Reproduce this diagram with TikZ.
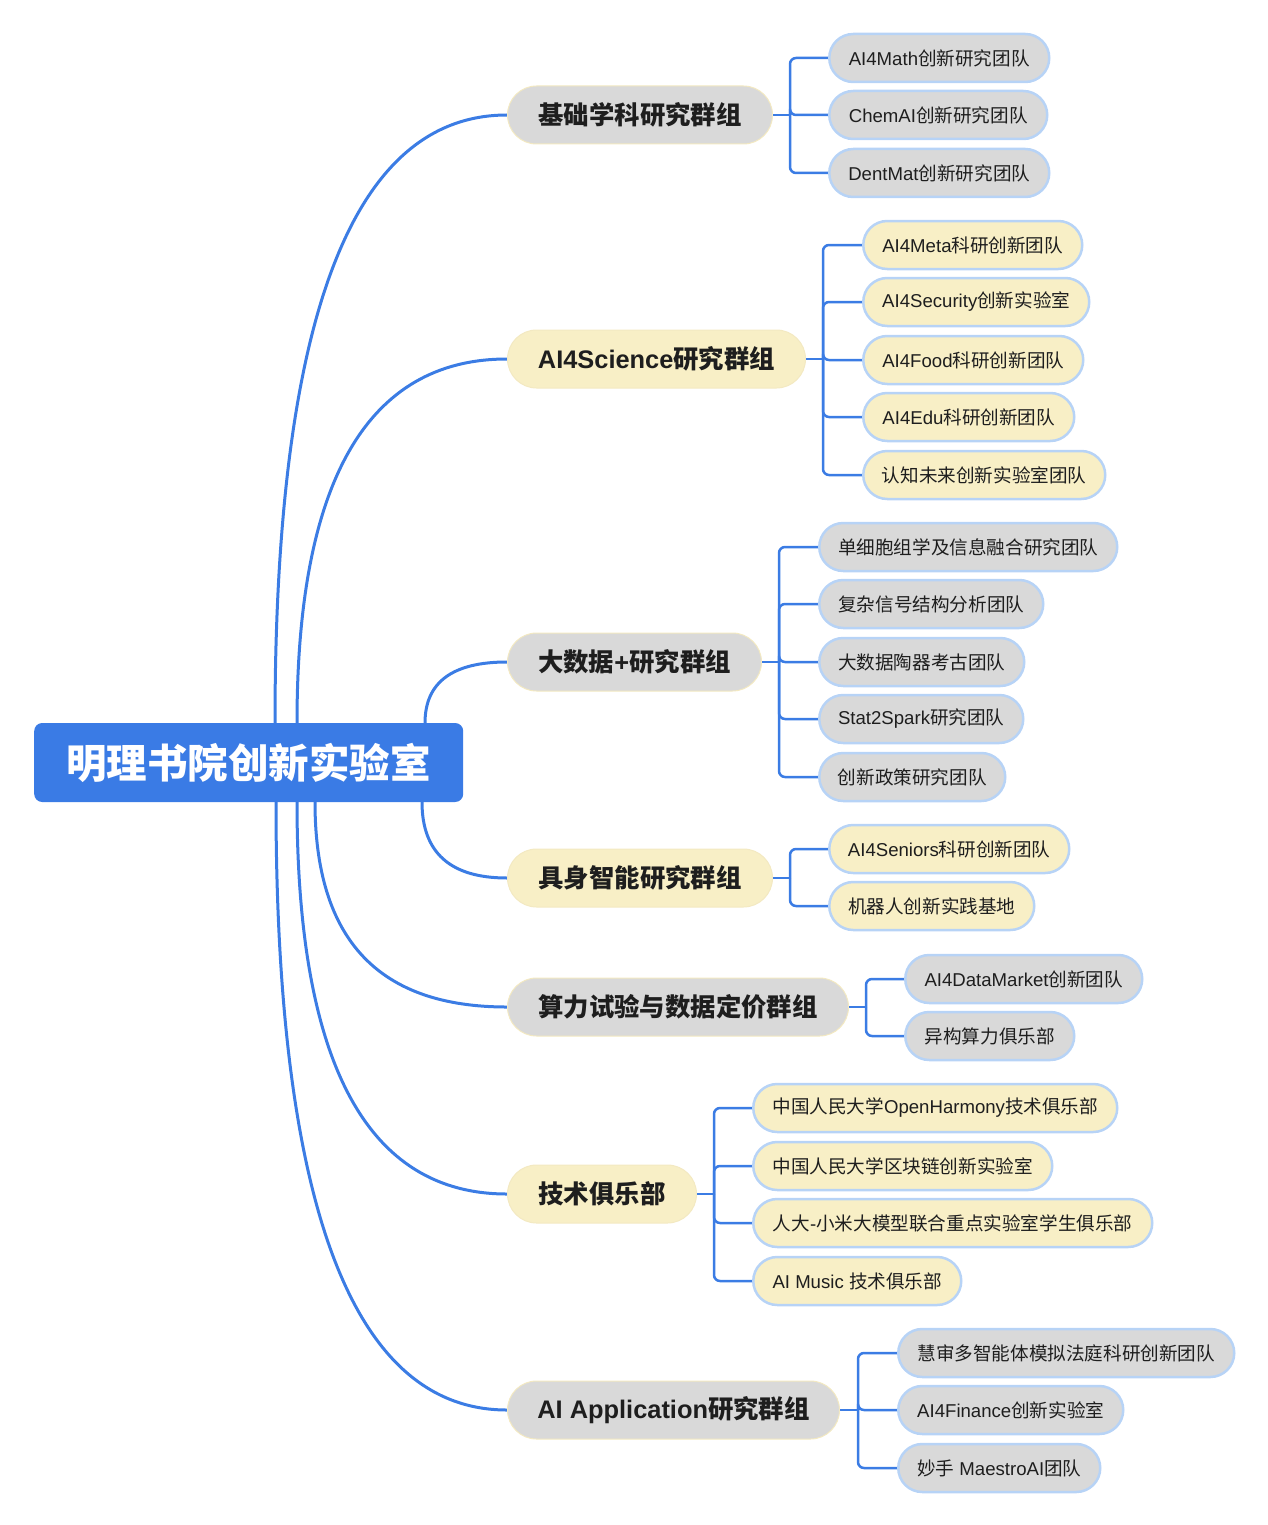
\documentclass[tikz,border=0pt]{standalone}
\usepackage{fontspec}
\setmainfont{Noto Sans CJK SC}
\newfontfamily\lat{Liberation Sans}
\newcommand\latn[1]{{\lat #1}}
\usetikzlibrary{backgrounds}
\definecolor{linecol}{RGB}{59,124,228}
\definecolor{rootfill}{RGB}{58,123,229}
\definecolor{grayfill}{RGB}{217,217,217}
\definecolor{yelfill}{RGB}{248,239,198}
\definecolor{kidborder}{RGB}{183,211,246}
\definecolor{lonebord}{RGB}{243,233,194}
\definecolor{txt}{RGB}{30,30,30}
\tikzset{
  rootbox/.style={draw=none, fill=rootfill, rounded corners=8pt, text=white,
    font=\fontsize{40.5}{48}\selectfont\bfseries, minimum width=429pt, minimum height=79pt, anchor=west, inner sep=0pt},
  lone/.style={draw=lonebord, line width=1pt, rounded corners=29pt, minimum height=58pt,
    minimum width=#1, anchor=west, inner sep=0pt, text=txt, font=\fontsize{25.4}{30}\selectfont\bfseries},
  kid/.style={draw=kidborder, line width=2.5pt, rounded corners=24pt, minimum height=48pt,
    minimum width=#1, anchor=west, inner sep=0pt, text=txt, font=\fontsize{18.6}{22}\selectfont},
  gry/.style={fill=grayfill},
  yel/.style={fill=yelfill},
  trunk/.style={draw=linecol, line width=3pt},
  twig/.style={draw=linecol, line width=2.5pt, rounded corners=6pt},
}
\begin{document}
\begin{tikzpicture}[x=1pt,y=-1pt]
\useasboundingbox (0,0) rectangle (1267,1525);
% root
\node[rootbox] (root) at (34,762.5) {明理书院创新实验室};
% level 1
\node[lone=265pt, gry] (g1) at (507,115) {基础学科研究群组};
\node[lone=298pt, yel] (g2) at (507,359) {\latn{AI4Science}研究群组};
\node[lone=254pt, gry] (g3) at (507,662) {大数据\latn{+}研究群组};
\node[lone=265pt, yel] (g4) at (507,878) {具身智能研究群组};
\node[lone=341pt, gry] (g5) at (507,1007) {算力试验与数据定价群组};
\node[lone=189pt, yel] (g6) at (507,1194) {技术俱乐部};
\node[lone=332pt, gry] (g7) at (507,1410) {\latn{AI Application}研究群组};
% level 2: group 1
\node[kid=220pt, gry] (a1) at (828,58) {\latn{AI4Math}创新研究团队};
\node[kid=218pt, gry] (a2) at (828,115) {\latn{ChemAI}创新研究团队};
\node[kid=220pt, gry] (a3) at (828,173) {\latn{DentMat}创新研究团队};
% group 2
\node[kid=219pt, yel] (b1) at (862,245) {\latn{AI4Meta}科研创新团队};
\node[kid=226pt, yel] (b2) at (862,302) {\latn{AI4Security}创新实验室};
\node[kid=220pt, yel] (b3) at (862,360) {\latn{AI4Food}科研创新团队};
\node[kid=211pt, yel] (b4) at (862,417) {\latn{AI4Edu}科研创新团队};
\node[kid=242pt, yel] (b5) at (862,475) {认知未来创新实验室团队};
% group 3
\node[kid=298pt, gry] (c1) at (818,547) {单细胞组学及信息融合研究团队};
\node[kid=224pt, gry] (c2) at (818,604) {复杂信号结构分析团队};
\node[kid=205pt, gry] (c3) at (818,662) {大数据陶器考古团队};
\node[kid=204pt, gry] (c4) at (818,719) {\latn{Stat2Spark}研究团队};
\node[kid=186pt, gry] (c5) at (818,777) {创新政策研究团队};
% group 4
\node[kid=240pt, yel] (d1) at (828,849) {\latn{AI4Seniors}科研创新团队};
\node[kid=205pt, yel] (d2) at (828,906) {机器人创新实践基地};
% group 5
\node[kid=237pt, gry] (e1) at (904,979) {\latn{AI4DataMarket}创新团队};
\node[kid=169pt, gry] (e2) at (904,1036) {异构算力俱乐部};
% group 6
\node[kid=364pt, yel] (f1) at (752,1108) {中国人民大学\latn{OpenHarmony}技术俱乐部};
\node[kid=299pt, yel] (f2) at (752,1166) {中国人民大学区块链创新实验室};
\node[kid=399pt, yel] (f3) at (752,1223) {人大\latn{-}小米大模型联合重点实验室学生俱乐部};
\node[kid=208pt, yel] (f4) at (752,1281) {\latn{AI Music }技术俱乐部};
% group 7
\node[kid=336pt, gry] (h1) at (897,1353) {慧审多智能体模拟法庭科研创新团队};
\node[kid=225pt, gry] (h2) at (897,1410) {\latn{AI4Finance}创新实验室};
\node[kid=202pt, gry] (h3) at (897,1468) {妙手\latn{ MaestroAI}团队};
% junction coordinates
\coordinate (j1) at (790,115);
\coordinate (j2) at (823,359);
\coordinate (j3) at (779,662);
\coordinate (j4) at (790,878);
\coordinate (j5) at (866,1007);
\coordinate (j6) at (714,1194);
\coordinate (j7) at (858,1410);
% root anchor points
\coordinate (t1) at (275,723);
\coordinate (t2) at (297,723);
\coordinate (t3) at (425,723);
\coordinate (u4) at (422,802);
\coordinate (u5) at (315,802);
\coordinate (u6) at (297,802);
\coordinate (u7) at (276,802);
\begin{scope}[on background layer]
% quadratic curves (control points at 2/3 toward the corner)
\draw[trunk] (t1) .. controls (275,317.7) and (352.3,115) .. (g1.west);
\draw[trunk] (t2) .. controls (297,481.7) and (367,359) .. (g2.west);
\draw[trunk] (t3) .. controls (425,682.3) and (452.3,662) .. (g3.west);
\draw[trunk] (u4) .. controls (422,852.7) and (450.3,878) .. (g4.west);
\draw[trunk] (u5) .. controls (315,940.3) and (379,1007) .. (g5.west);
\draw[trunk] (u6) .. controls (297,1063.3) and (367,1194) .. (g6.west);
\draw[trunk] (u7) .. controls (276,1207.3) and (353,1410) .. (g7.west);
% branches
\draw[twig] (g1.east) -- (j1);
\foreach \k in {a1,a2,a3} \draw[twig] (j1) |- (\k.west);
\draw[twig] (g2.east) -- (j2);
\foreach \k in {b1,b2,b3,b4,b5} \draw[twig] (j2) |- (\k.west);
\draw[twig] (g3.east) -- (j3);
\foreach \k in {c1,c2,c3,c4,c5} \draw[twig] (j3) |- (\k.west);
\draw[twig] (g4.east) -- (j4);
\foreach \k in {d1,d2} \draw[twig] (j4) |- (\k.west);
\draw[twig] (g5.east) -- (j5);
\foreach \k in {e1,e2} \draw[twig] (j5) |- (\k.west);
\draw[twig] (g6.east) -- (j6);
\foreach \k in {f1,f2,f3,f4} \draw[twig] (j6) |- (\k.west);
\draw[twig] (g7.east) -- (j7);
\foreach \k in {h1,h2,h3} \draw[twig] (j7) |- (\k.west);
\end{scope}
\end{tikzpicture}
\end{document}
